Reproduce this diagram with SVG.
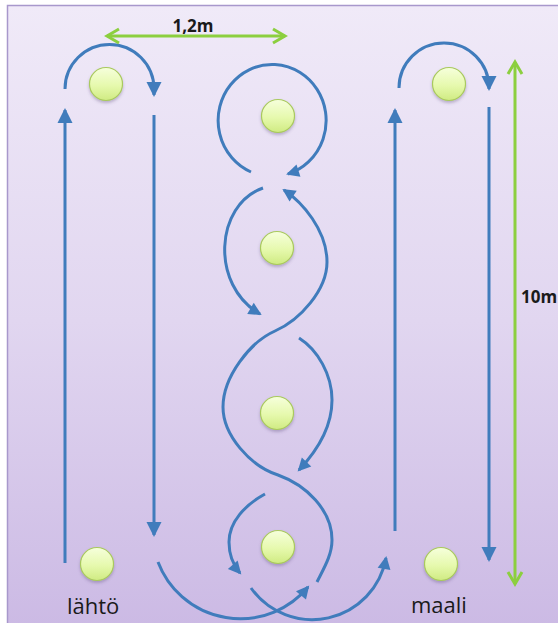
<svg xmlns="http://www.w3.org/2000/svg" width="558" height="623" viewBox="0 0 558 623">
  <defs>
    <linearGradient id="bg" x1="0" y1="0" x2="0" y2="1">
      <stop offset="0" stop-color="#f0eaf8"/>
      <stop offset="0.5" stop-color="#e1d6f0"/>
      <stop offset="1" stop-color="#cbb9e4"/>
    </linearGradient>
    <linearGradient id="ball" x1="0" y1="0" x2="0" y2="1">
      <stop offset="0" stop-color="#f6ffdc"/>
      <stop offset="0.55" stop-color="#e6f9ad"/>
      <stop offset="1" stop-color="#cfeb82"/>
    </linearGradient>
    <filter id="shadow" x="-40%" y="-40%" width="180%" height="190%">
      <feDropShadow dx="0" dy="2" stdDeviation="1.5" flood-color="#5a4a78" flood-opacity="0.35"/>
    </filter>
    <!-- solid arrowheads for the running route -->
    <marker id="head" markerUnits="userSpaceOnUse" viewBox="-2 -10 20 20" markerWidth="20" markerHeight="20" refX="13" refY="0" orient="auto">
      <path d="M0,-7.5 L15,0 L0,7.5 z" fill="#407cbc"/>
    </marker>
    <marker id="headSmall" markerUnits="userSpaceOnUse" viewBox="-2 -10 20 20" markerWidth="20" markerHeight="20" refX="11" refY="0" orient="auto">
      <path d="M0,-6.5 L13,0 L0,6.5 z" fill="#407cbc"/>
    </marker>
    <!-- open chevrons for the measurement arrows -->
    <marker id="chev" markerUnits="userSpaceOnUse" overflow="visible" markerWidth="30" markerHeight="30" refX="0" refY="0" orient="auto-start-reverse">
      <path d="M-12,-7 L0,0 L-12,7" fill="none" stroke="#8ccf3f" stroke-width="3" stroke-linejoin="miter"/>
    </marker>
  </defs>
  <style>
    .route { fill: none; stroke: #407cbc; stroke-width: 3; stroke-linecap: butt; }
    .arrow { marker-end: url(#head); }
    .arrowS { marker-end: url(#headSmall); }
    .measure { fill: none; stroke: #8ccf3f; stroke-width: 3; marker-start: url(#chev); marker-end: url(#chev); }
    .ball { fill: url(#ball); stroke: #a9c95e; stroke-width: 1.2; filter: url(#shadow); }
    .dim { font-family: "Open Sans", "Liberation Sans", sans-serif; font-weight: bold; font-size: 17px; fill: #1a1a1a; }
    .place { font-family: "Open Sans", "Liberation Sans", sans-serif; font-size: 22px; fill: #1a1a1a; }
  </style>

  <!-- field -->
  <rect x="7.5" y="5.5" width="560" height="630" fill="url(#bg)" stroke="#a898cc" stroke-width="1.5"/>

  <!-- route connectors -->
  <g id="connectors">
    <!-- start lane -->
    <path class="route arrow" d="M65,563 L65,110"/>
    <path class="route arrow" d="M65,89 A44.5,44.5 0 0 1 154,89 L154,95"/>
    <path class="route arrow" d="M154,115 L154,535"/>
    <path class="route arrowS" d="M158,562 A88,88 0 0 0 308,587"/>

    <!-- weave up through the middle cones -->
    <path class="route arrowS" d="M317,582 C324,568 332,555 332,540 C332,510 306,485 278,475 C250,466 223,435 223,407 C223,377 250,342 275,331 C300,320 327,290 327,262 C327,230 302,202 284,190"/>
    <!-- loop round the top cone -->
    <path class="route arrowS" d="M251,172 A54,56 0 1 1 288,174"/>
    <!-- weave back down -->
    <path class="route arrowS" d="M263,188 C215,205 210,285 260,314"/>
    <path class="route arrowS" d="M299,338 C318,350 332,375 332,400 C332,428 316,452 299,470"/>
    <path class="route arrowS" d="M265,494 C245,505 229,522 229,542 C229,555 233,565 240,573"/>
    <path class="route arrowS" d="M251,588 A75,75 0 0 0 386,558"/>

    <!-- finish lane -->
    <path class="route arrow" d="M395,531 L395,110"/>
    <path class="route arrow" d="M399,88 A45,45 0 0 1 489,88 L489,89"/>
    <path class="route arrow" d="M489,107 L489,560"/>

    <!-- measurements -->
    <path class="measure" d="M107,36 L285,36"/>
    <path class="measure" d="M515,62 L515,584"/>
  </g>

  <!-- cones -->
  <g id="cone-start-top"><circle class="ball" cx="106" cy="84" r="16.5"/></g>
  <g id="cone-start"><circle class="ball" cx="97" cy="564" r="16.5"/></g>
  <g id="cone-mid-1"><circle class="ball" cx="278" cy="116" r="16.5"/></g>
  <g id="cone-mid-2"><circle class="ball" cx="277" cy="248" r="16.5"/></g>
  <g id="cone-mid-3"><circle class="ball" cx="277" cy="413" r="16.5"/></g>
  <g id="cone-mid-4"><circle class="ball" cx="278" cy="547" r="16.5"/></g>
  <g id="cone-finish-top"><circle class="ball" cx="449" cy="84" r="16.5"/></g>
  <g id="cone-finish"><circle class="ball" cx="441" cy="564" r="16.5"/></g>

  <!-- labels -->
  <g id="labels">
    <text class="dim" x="193" y="32" text-anchor="middle">1,2m</text>
    <text class="dim" x="521" y="303">10m</text>
    <text class="place" x="67" y="614">lähtö</text>
    <text class="place" x="411" y="613">maali</text>
  </g>
</svg>
